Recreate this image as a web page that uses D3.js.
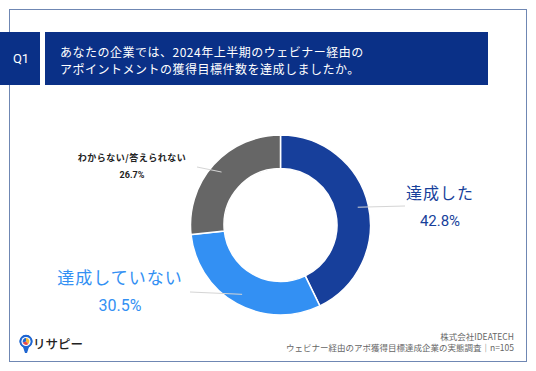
<!DOCTYPE html>
<html><head><meta charset="utf-8">
<script src="https://cdn.jsdelivr.net/npm/d3@7"></script>
<style>html,body{margin:0;padding:0;background:#fff;}svg{display:block;font-family:"Noto Sans CJK JP","Noto Sans",sans-serif;}</style>
</head><body>
<svg id="c" width="536" height="371"></svg>
<script>
const categories = ["達成した", "達成していない", "わからない/答えられない"];
const values = [42.8, 30.5, 26.7];
const valueLabels = ["42.8%", "30.5%", "26.7%"];
const colors = ["#173f9b", "#3390f3", "#666666"];
const titleLines = ["あなたの企業では、2024年上半期のウェビナー経由の", "アポイントメントの獲得目標件数を達成しましたか。"];
const footLines = ["株式会社IDEATECH", "ウェビナー経由のアポ獲得目標達成企業の実態調査｜n=105"];

const svg = d3.select("#c");
// frame
svg.append("rect").attr("x", 9.5).attr("y", 9.5).attr("width", 517).attr("height", 352)
  .attr("fill", "#fff").attr("stroke", "#6f87b3").attr("stroke-width", 1);
// header
svg.append("rect").attr("x", 0).attr("y", 32).attr("width", 40).attr("height", 53).attr("fill", "#0a3087");
svg.append("text").attr("x", 21).attr("y", 63).attr("text-anchor", "middle").attr("fill", "#fff")
  .attr("font-size", 13).attr("font-family", "Roboto, sans-serif").text("Q1");
svg.append("rect").attr("x", 45).attr("y", 32).attr("width", 443).attr("height", 53).attr("fill", "#0a3087");
titleLines.forEach((t, i) => {
  svg.append("text").attr("x", 60).attr("y", 56.5 + i * 17.5).attr("fill", "#fff")
    .attr("font-size", 12).attr("letter-spacing", 0.5).text(t);
});

// donut
const cx = 280.5, cy = 225, R = 90, r = 56.5;
const pie = d3.pie().sort(null).value(d => d);
const arcs = pie(values);
const arc = d3.arc().innerRadius(r).outerRadius(R);
const g = svg.append("g").attr("transform", `translate(${cx},${cy})`);
g.selectAll("path").data(arcs).join("path")
  .attr("d", arc).attr("fill", (d, i) => colors[i]).attr("stroke", "#fff").attr("stroke-width", 1.5);

// leader lines
const mid = d3.arc().innerRadius((R + r) / 2 + 6).outerRadius((R + r) / 2 + 6);
const ends = [[405, 206], [190, 292], [197, 167]];
arcs.forEach((d, i) => {
  const [x, y] = mid.centroid(d);
  svg.append("line").attr("x1", cx + x).attr("y1", cy + y).attr("x2", ends[i][0]).attr("y2", ends[i][1])
    .attr("stroke", "#d5d5d5").attr("stroke-width", 1);
});

// labels
const lab = [
  {x: 440, y1: 199, y2: 226, fs1: 16, fs2: 15, w: 400, c: colors[0]},
  {x: 120, y1: 284, y2: 311, fs1: 17, fs2: 16, w: 400, c: colors[1]},
  {x: 132, y1: 161, y2: 178, fs1: 9, fs2: 9, w: 700, c: "#222"}
];
lab.forEach((l, i) => {
  svg.append("text").attr("x", l.x).attr("y", l.y1).attr("text-anchor", "middle").attr("fill", l.c)
    .attr("font-size", l.fs1).attr("font-weight", l.w).attr("letter-spacing", i === 2 ? 0.5 : 1).text(categories[i]);
  svg.append("text").attr("x", l.x).attr("y", l.y2).attr("text-anchor", "middle").attr("fill", l.c)
    .attr("font-size", l.fs2).attr("font-weight", l.w).attr("font-family", "Roboto, sans-serif").text(valueLabels[i]);
});

// footer
footLines.forEach((t, i) => {
  svg.append("text").attr("x", 514).attr("y", 339.5 + i * 11).attr("text-anchor", "end").attr("fill", "#666")
    .attr("font-size", 8.5).text(t);
});
// logo
const lg = svg.append("g").attr("transform", "translate(26,342)");
lg.append("path").attr("d", "M-1,11 L1,11 L3,5 A6.5,6.5 0 1 0 -3,5 Z").attr("fill", "#1f66d1");
lg.append("circle").attr("cx", 0).attr("cy", -0.5).attr("r", 6.5).attr("fill", "#1f66d1");
lg.append("circle").attr("cx", 0).attr("cy", -0.5).attr("r", 4.6).attr("fill", "#fff");
const pieLogo = [[0, 2.4, "#f2b632"], [2.4, 4.4, "#e5484d"], [4.4, 6.283, "#1f66d1"]];
pieLogo.forEach(p => {
  lg.append("path").attr("d", d3.arc()({innerRadius: 0, outerRadius: 3.4, startAngle: p[0], endAngle: p[1]}))
    .attr("transform", "translate(0,-0.5)").attr("fill", p[2]);
});
svg.append("text").attr("x", 33).attr("y", 349).attr("fill", "#222").attr("font-size", 12.5).attr("font-weight", 500).text("リサピー");
</script>
</body></html>
